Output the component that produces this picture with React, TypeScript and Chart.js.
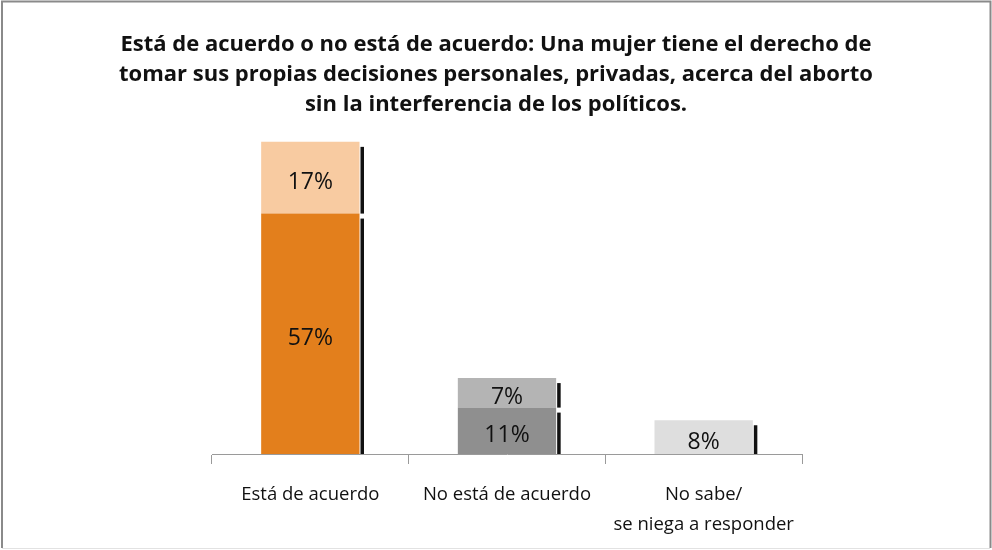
import React, { useEffect, useRef } from 'react';
import { Chart, registerables } from 'chart.js';

Chart.register(...registerables);

const titleLines = [
  'Está de acuerdo o no está de acuerdo: Una mujer tiene el derecho de',
  'tomar sus propias decisiones personales, privadas, acerca del aborto',
  'sin la interferencia de los políticos.',
];
const categories: (string | string[])[] = [
  'Está de acuerdo',
  'No está de acuerdo',
  ['No sabe/', 'se niega a responder'],
];
const lowerValues = [57, 11, 8];
const upperValues = [17, 7, null];
const lowerColors = ['#E37F1C', '#8F8F8F', '#DEDEDE'];
const upperColors = ['#F8CBA1', '#B4B4B4', '#DEDEDE'];
const yMax = 78;

const FONT = '"Open Sans", Lato, sans-serif';

const framePlugin = {
  id: 'frame',
  beforeDraw(chart: any) {
    const ctx = chart.ctx;
    ctx.save();
    ctx.fillStyle = '#ffffff';
    ctx.fillRect(0, 0, chart.width, chart.height);
    ctx.strokeStyle = '#8a8a8a';
    ctx.lineWidth = 2;
    ctx.beginPath();
    ctx.moveTo(2, 548);
    ctx.lineTo(2, 1.5);
    ctx.lineTo(990.5, 1.5);
    ctx.lineTo(990.5, 548);
    ctx.stroke();
    ctx.strokeStyle = '#e2e2e2';
    ctx.lineWidth = 1;
    ctx.beginPath();
    ctx.moveTo(2, 548.5);
    ctx.lineTo(990, 548.5);
    ctx.stroke();
    ctx.restore();
  },
};

const barDecorPlugin = {
  id: 'barDecor',
  afterDatasetsDraw(chart: any) {
    const ctx = chart.ctx;
    ctx.save();
    chart.data.datasets.forEach((ds: any, di: number) => {
      const meta = chart.getDatasetMeta(di);
      meta.data.forEach((el: any, i: number) => {
        const v = ds.data[i];
        if (v == null) return;
        const props = el.getProps(['x', 'y', 'base', 'width'], true);
        const right = props.x + props.width / 2;
        const top = Math.min(props.y, props.base);
        const bottom = Math.max(props.y, props.base);
        // shadow on right side
        ctx.fillStyle = '#111111';
        ctx.fillRect(right + 1, top + 5, 3.5, bottom - top - 5);
        // label
        ctx.fillStyle = '#111111';
        ctx.font = `23px ${FONT}`;
        ctx.textAlign = 'center';
        ctx.textBaseline = 'middle';
        ctx.fillText(`${v}%`, props.x, (top + bottom) / 2 + 5);
      });
    });
    ctx.restore();
  },
};

export default function App() {
  const ref = useRef<HTMLCanvasElement>(null);

  useEffect(() => {
    if (!ref.current) return;
    const chart = new Chart(ref.current, {
      type: 'bar',
      data: {
        labels: categories,
        datasets: [
          {
            label: 'lower',
            data: lowerValues,
            backgroundColor: lowerColors,
            stack: 's',
            barPercentage: 0.5,
            categoryPercentage: 1,
          },
          {
            label: 'upper',
            data: upperValues,
            backgroundColor: upperColors,
            stack: 's',
            barPercentage: 0.5,
            categoryPercentage: 1,
          },
        ],
      },
      options: {
        animation: false,
        responsive: false,
        maintainAspectRatio: false,
        layout: { padding: 0 },
        plugins: {
          legend: { display: false },
          tooltip: { enabled: false },
          title: {
            display: true,
            text: titleLines,
            color: '#111111',
            font: { family: FONT, size: 22, weight: 'bold', lineHeight: 30 / 22 },
            padding: { top: 30, bottom: 5 },
          },
        },
        scales: {
          x: {
            stacked: true,
            offset: true,
            grid: {
              offset: true,
              drawOnChartArea: false,
              drawTicks: true,
              tickLength: 10,
              color: '#9a9a9a',
            },
            border: { display: true, color: '#9a9a9a', width: 1 },
            ticks: {
              color: '#111111',
              padding: 16,
              font: { family: FONT, size: 18.5, lineHeight: 30 / 18.5 },
            },
            afterFit(axis: any) {
              axis.height = 96;
            },
          },
          y: {
            stacked: true,
            min: 0,
            max: yMax,
            display: true,
            position: 'left',
            grid: { display: false },
            border: { display: false },
            ticks: { display: false },
            afterFit(axis: any) {
              axis.width = 212;
            },
          },
          yRight: {
            min: 0,
            max: yMax,
            display: true,
            position: 'right',
            grid: { display: false },
            border: { display: false },
            ticks: { display: false },
            afterFit(axis: any) {
              axis.width = 190;
            },
          },
        },
      },
      plugins: [framePlugin, barDecorPlugin],
    });
    return () => chart.destroy();
  }, []);

  return (
    <div style={{ position: 'fixed', left: 0, top: 0, width: 992, height: 550 }}>
      <canvas ref={ref} width={992} height={550} style={{ width: 992, height: 550 }} />
    </div>
  );
}
